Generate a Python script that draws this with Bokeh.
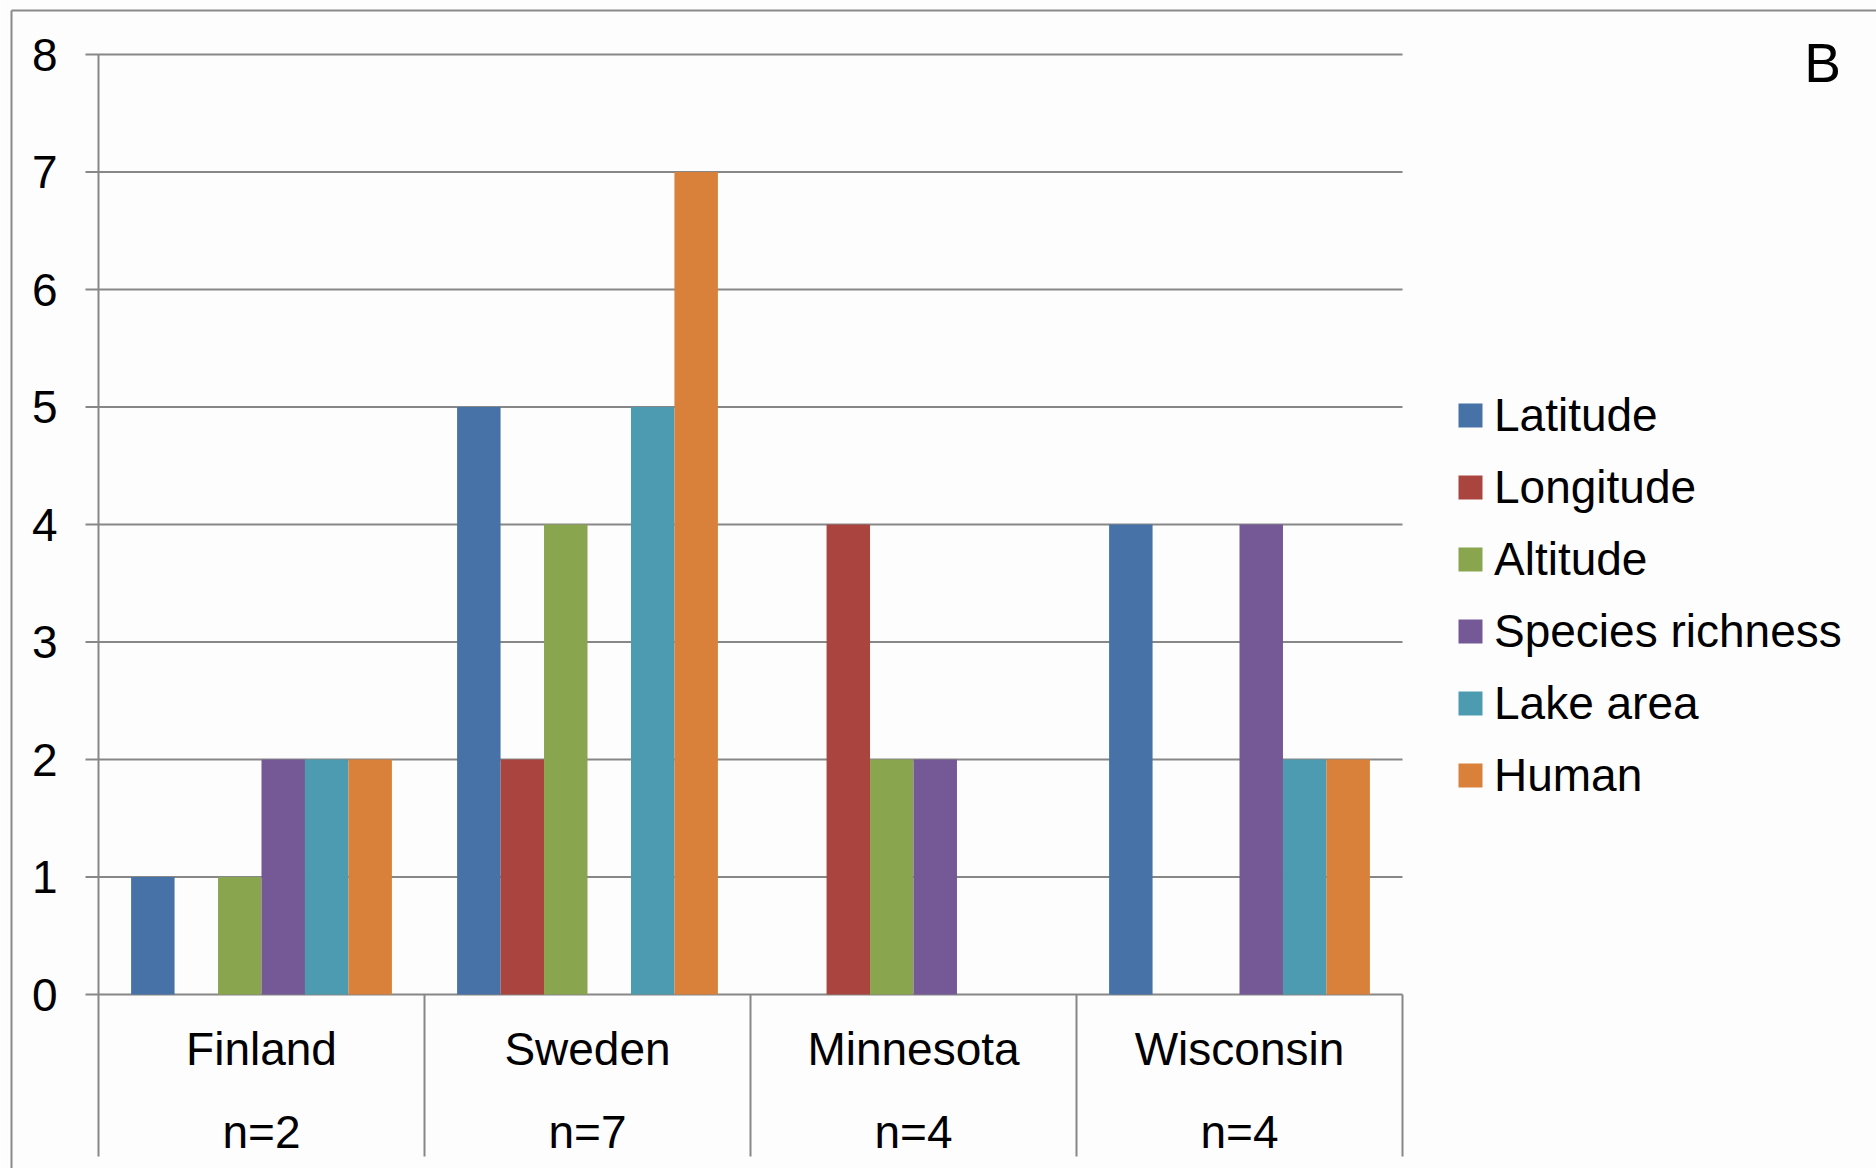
from bokeh.plotting import figure
from bokeh.models import Range1d, Legend, LegendItem, Label, ColumnDataSource
from bokeh.core.properties import value
from bokeh.embed import file_html
from bokeh.resources import INLINE

# Regions and their sample sizes
regions = ["Finland", "Sweden", "Minnesota", "Wisconsin"]
sample_sizes = ["n=2", "n=7", "n=4", "n=4"]

# Number of significant relationships per explanatory variable
variables = ["Latitude", "Longitude", "Altitude", "Species richness", "Lake area", "Human"]
latitude = [1, 5, 0, 4]
longitude = [0, 2, 4, 0]
altitude = [1, 4, 2, 0]
species_richness = [2, 0, 2, 4]
lake_area = [2, 5, 0, 2]
human = [2, 7, 0, 2]
series = [latitude, longitude, altitude, species_richness, lake_area, human]

colors = ["#4672A7", "#A9443F", "#89A64E", "#755896", "#4D9BB0", "#D9813A"]
y_ticks = [0, 1, 2, 3, 4, 5, 6, 7, 8]
y_tick_labels = [str(t) for t in y_ticks]

FONT = "Liberation Sans"
GRAY = "#878787"
W, H = 1876, 1168

# Plot-area geometry in canvas pixels
LEFT, RIGHT, TOP, BOTTOM = 98, 1402, 54, 994
ncat = len(regions)
ymax = y_ticks[-1]
ux = (RIGHT - LEFT) / ncat          # pixels per region slot
uy = (BOTTOM - TOP) / ymax          # pixels per count unit


def dx(px):
    """canvas pixel offset -> x data offset"""
    return px / ux


def dy(px):
    """canvas pixel offset -> y data offset"""
    return px / uy


p = figure(
    width=W, height=H,
    x_range=Range1d(-dx(LEFT), dx(W - LEFT)),
    y_range=Range1d(-dy(H - BOTTOM), ymax + dy(TOP)),
    output_backend="svg", toolbar_location=None,
    min_border=0, min_border_left=0, min_border_right=0,
    min_border_top=0, min_border_bottom=0,
    background_fill_color="#fdfdfd", border_fill_color="#fdfdfd",
)
p.outline_line_color = None
p.xaxis.visible = False
p.yaxis.visible = False
p.xgrid.visible = False
p.ygrid.visible = False

# Outer chart border (left and top edges)
p.segment(x0=[-dx(LEFT - 11)], x1=[-dx(LEFT - 11)], y0=[ymax + dy(TOP - 10)], y1=[-dy(H - BOTTOM + 20)],
          line_color="#8a8a8a", line_width=2)
p.segment(x0=[-dx(LEFT - 11)], x1=[dx(W - LEFT + 20)], y0=[ymax + dy(TOP - 10)], y1=[ymax + dy(TOP - 10)],
          line_color="#8a8a8a", line_width=2)

# Horizontal gridlines with outward tick marks
tick_len = dx(13)
p.segment(x0=[-tick_len] * len(y_ticks), x1=[ncat] * len(y_ticks), y0=y_ticks, y1=y_ticks,
          line_color=GRAY, line_width=2)

# Value axis line, extended down through the category label band
sep_bottom = -dy(1156 - BOTTOM)
p.segment(x0=[0], x1=[0], y0=[ymax], y1=[sep_bottom], line_color=GRAY, line_width=2)

# Category separators below the baseline
edges = list(range(1, ncat + 1))
p.segment(x0=edges, x1=edges, y0=[0] * ncat, y1=[sep_bottom] * ncat, line_color=GRAY, line_width=2)

# Y tick labels
p.text(x=[-dx(LEFT - 57)] * len(y_ticks), y=y_ticks, text=y_tick_labels,
       text_align="right", text_baseline="middle",
       text_font=value(FONT), text_font_size="46px", text_color="black")

# Region and sample-size labels
centres = [i + 0.5 for i in range(ncat)]
p.text(x=centres, y=[-dy(1048 - BOTTOM)] * ncat, text=regions,
       text_align="center", text_baseline="middle",
       text_font=value(FONT), text_font_size="46px", text_color="black")
p.text(x=centres, y=[-dy(1131 - BOTTOM)] * ncat, text=sample_sizes,
       text_align="center", text_baseline="middle",
       text_font=value(FONT), text_font_size="46px", text_color="black")

# Clustered bars: 6 bars fill 80% of each region slot
n = len(variables)
bw = 0.8 / n
renderers = []
for j, (vals, col) in enumerate(zip(series, colors)):
    src = ColumnDataSource(dict(x=[i + 0.5 + (j - (n - 1) / 2) * bw for i in range(ncat)], top=vals))
    r = p.vbar(x="x", top="top", bottom=0, width=bw, source=src,
               fill_color=col, line_color=None)
    renderers.append(r)

# Legend to the right of the bars
legend = Legend(
    items=[LegendItem(label=v, renderers=[r]) for v, r in zip(variables, renderers)],
    location=(1455, H - 805),
    orientation="vertical",
    glyph_width=30, glyph_height=30,
    label_height=60, spacing=12, label_standoff=9,
    padding=0, margin=0,
    border_line_color=None, background_fill_alpha=0,
    label_text_font=FONT, label_text_font_size="46px", label_text_color="black",
)
p.add_layout(legend, "center")

# Panel letter
p.add_layout(Label(x=1822, y=H - 62, x_units="screen", y_units="screen", text="B",
                   text_align="center", text_baseline="middle",
                   text_font=FONT, text_font_size="55px", text_color="black"))

open("out.html", "w").write(file_html(p, INLINE))
